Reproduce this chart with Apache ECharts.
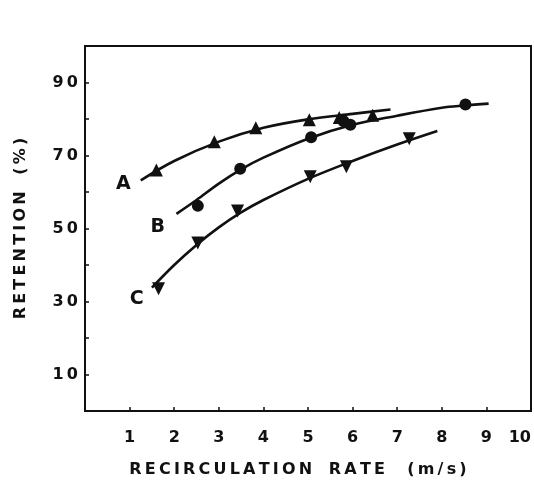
<!DOCTYPE html>
<html>
<head>
<meta charset="utf-8">
<script src="https://cdn.jsdelivr.net/npm/echarts@6/dist/echarts.min.js"></script>
<style>
  html, body { margin: 0; padding: 0; background: #fff; }
  #chart { width: 534px; height: 484px; }
</style>
</head>
<body>
<div id="chart"></div>
<script>
// Retention vs recirculation rate, three runs (A, B, C)

// measured points
const pointsA = [[1.6, 66.0], [2.9, 73.8], [3.83, 77.6], [5.03, 79.8], [5.7, 80.4], [6.45, 81.0]];
const pointsB = [[2.53, 56.2], [3.48, 66.4], [5.07, 75.0], [5.8, 79.4], [5.95, 78.4], [8.53, 84.0]];
const pointsC = [[1.65, 33.5], [2.53, 46.0], [3.42, 54.8], [5.05, 64.2], [5.86, 66.9], [7.27, 74.6]];

// fitted curves through each run
const curveA = [[1.25, 63.2], [2, 68.5], [3, 73.8], [4, 77.6], [5, 79.9], [6, 81.4], [6.85, 82.6]];
const curveB = [[2.05, 54.0], [2.5, 57.8], [3, 62.3], [3.5, 66.2], [4, 69.4], [5, 74.6], [6, 78.4], [7, 80.9], [8, 83.1], [8.5, 83.7], [9.05, 84.2]];
const curveC = [[1.5, 33.8], [2, 40.0], [2.5, 45.5], [3, 50.3], [3.5, 54.4], [4, 57.8], [5, 63.6], [6, 68.5], [7, 73.0], [7.9, 76.7]];

// curve name positions
const curveNames = [
  { name: 'A', value: [0.86, 62.3] },
  { name: 'B', value: [1.63, 50.5] },
  { name: 'C', value: [1.16, 30.8] }
];

// axis ticks
const xTicks = [1, 2, 3, 4, 5, 6, 7, 8, 9, 10];
const yTickLabels = [10, 30, 50, 70, 90];

const ink = '#111';
const font = 'DejaVu Sans';
const thin = '\u2009';
const spaced = s => s.split('').join(thin);

const chart = echarts.init(document.getElementById('chart'), null, { renderer: 'canvas' });

const lineSeries = (data) => ({
  type: 'line',
  data: data,
  smooth: 0.35,
  showSymbol: false,
  symbol: 'none',
  silent: true,
  lineStyle: { color: ink, width: 2.6 },
  z: 2
});

const markSeries = (data, symbol, size, rotate) => ({
  type: 'scatter',
  data: data,
  symbol: symbol,
  symbolSize: size,
  symbolRotate: rotate || 0,
  itemStyle: { color: ink, opacity: 1 },
  z: 3
});

chart.setOption({
  animation: false,
  backgroundColor: '#fff',
  grid: {
    left: 85, right: 3, top: 46, bottom: 73,
    show: true, borderColor: ink, borderWidth: 2, backgroundColor: '#fff'
  },
  xAxis: {
    type: 'value',
    min: 0, max: 10, interval: 1,
    name: spaced('RECIRCULATION') + '   ' + spaced('RATE') + '    ' + spaced('(m/s)'),
    nameLocation: 'middle',
    nameGap: 51,
    nameTextStyle: { fontFamily: font, fontSize: 16, color: ink, fontWeight: 'bold', padding: [0, 20, 0, 0] },
    axisLine: { show: true, onZero: false, lineStyle: { color: ink, width: 2 } },
    axisTick: { show: true, inside: true, length: 4, lineStyle: { color: ink, width: 1.5 } },
    splitLine: { show: false },
    axisLabel: {
      margin: 19,
      fontFamily: font, fontSize: 16, fontWeight: 'bold', color: ink,
      alignMaxLabel: 'right',
      formatter: v => (xTicks.indexOf(v) >= 0 ? String(v) : '')
    }
  },
  yAxis: {
    type: 'value',
    min: 0, max: 100, interval: 10,
    name: spaced('RETENTION') + '   ' + spaced('(%)'),
    nameLocation: 'middle',
    nameRotate: 90,
    nameGap: 56,
    nameTextStyle: { fontFamily: font, fontSize: 16, color: ink, fontWeight: 'bold' },
    axisLine: { show: true, onZero: false, lineStyle: { color: ink, width: 2 } },
    axisTick: { show: true, inside: true, length: 4, lineStyle: { color: ink, width: 1.5 } },
    splitLine: { show: false },
    axisLabel: {
      margin: 7,
      fontFamily: font, fontSize: 16, fontWeight: 'bold', color: ink,
      formatter: v => (yTickLabels.indexOf(v) >= 0 ? String(v).split('').join(thin) : '')
    }
  },
  series: [
    lineSeries(curveA),
    lineSeries(curveB),
    lineSeries(curveC),
    markSeries(pointsA, 'triangle', 13),
    markSeries(pointsB, 'circle', 12),
    markSeries(pointsC, 'triangle', 13, 180),
    {
      type: 'scatter',
      data: curveNames,
      symbolSize: 1,
      itemStyle: { color: 'rgba(0,0,0,0)', opacity: 1 },
      label: {
        show: true,
        position: 'inside',
        opacity: 1,
        formatter: p => p.name,
        fontFamily: font, fontSize: 19, fontWeight: 'bold', color: ink
      },
      z: 4
    }
  ]
});
</script>
</body>
</html>
